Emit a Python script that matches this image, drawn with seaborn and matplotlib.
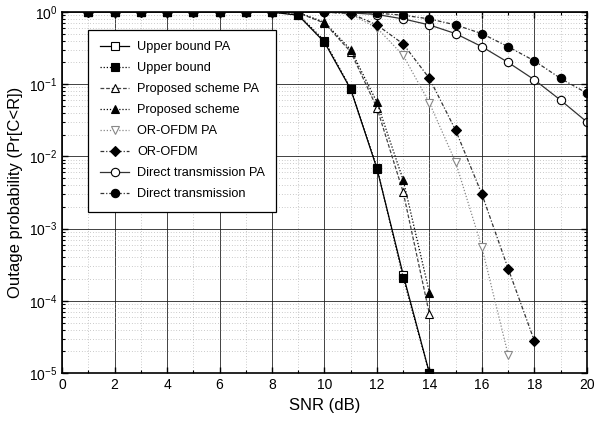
import numpy as np
import pandas as pd
import matplotlib
matplotlib.use("Agg")
import matplotlib.pyplot as plt
import seaborn as sns
from matplotlib.ticker import LogLocator, MultipleLocator, NullFormatter

# values (SNR 1..20 dB)
snr = list(range(1, 21))
upper_pa = [1, 1, 1, 1, 1, 1, 1, 0.99, 0.90, 0.38, 0.085, 0.0068, 2.3e-4, 1e-5]
upper = [1, 1, 1, 1, 1, 1, 1, 0.99, 0.92, 0.40, 0.087, 0.0070, 2.1e-4, 1e-5]
prop_pa = [1, 1, 1, 1, 1, 1, 1, 1, 0.97, 0.70, 0.28, 0.047, 0.0032, 6.6e-5]
prop = [1, 1, 1, 1, 1, 1, 1, 1, 0.98, 0.72, 0.30, 0.056, 0.0047, 1.3e-4]
orofdm_pa = [1, 1, 1, 1, 1, 1, 1, 1, 1, 0.99, 0.93, 0.60, 0.25, 0.055, 0.0083, 5.5e-4, 1.8e-5]
orofdm = [1, 1, 1, 1, 1, 1, 1, 1, 1, 0.99, 0.95, 0.66, 0.36, 0.12, 0.023, 0.0030, 2.8e-4, 2.8e-5]
direct_pa = [1, 1, 1, 1, 1, 1, 1, 1, 1, 1, 0.97, 0.92, 0.80, 0.66, 0.50, 0.33, 0.20, 0.115, 0.060, 0.030]
direct = [1, 1, 1, 1, 1, 1, 1, 1, 1, 1, 0.99, 0.96, 0.90, 0.80, 0.66, 0.50, 0.33, 0.21, 0.12, 0.075]

# label, values, marker, face, edge, line colour, linestyle
series = [
    ("Upper bound PA", upper_pa, "s", "white", "black", "black", "-"),
    ("Upper bound", upper, "s", "black", "black", "black", (0, (1, 1.5))),
    ("Proposed scheme PA", prop_pa, "^", "white", "black", "#444444", (0, (3, 1.5))),
    ("Proposed scheme", prop, "^", "black", "black", "black", (0, (1, 1.5))),
    ("OR-OFDM PA", orofdm_pa, "v", "white", "#888888", "#888888", (0, (1, 1.5))),
    ("OR-OFDM", orofdm, "D", "black", "black", "#333333", (0, (3, 1.5, 1, 1.5))),
    ("Direct transmission PA", direct_pa, "o", "white", "black", "#333333", "-"),
    ("Direct transmission", direct, "o", "black", "black", "#333333", (0, (3, 1.5, 1, 1.5))),
]

plt.rcParams["font.family"] = ["Liberation Sans", "DejaVu Sans"]
fig = plt.figure(figsize=(5.97, 4.25), dpi=100)
ax = fig.add_axes([0.104, 0.122, 0.879, 0.850])

for label, vals, mk, face, edge, lc, ls in series:
    df = pd.DataFrame({"SNR": snr[:len(vals)], "P": vals})
    sns.lineplot(data=df, x="SNR", y="P", ax=ax, color=lc, linestyle=ls, linewidth=0.9,
                 marker=mk, markersize=6 if mk != "D" else 5, markerfacecolor=face,
                 markeredgecolor=edge, markeredgewidth=0.8, label=label)

ax.set_yscale("log")
ax.set_xlim(0, 20)
ax.set_ylim(1e-5, 1)
ax.xaxis.set_major_locator(MultipleLocator(2))
ax.xaxis.set_minor_locator(MultipleLocator(1))
ax.yaxis.set_major_locator(LogLocator(base=10, numticks=10))
ax.yaxis.set_minor_locator(LogLocator(base=10, subs=np.arange(2, 10), numticks=20))
ax.yaxis.set_minor_formatter(NullFormatter())
ax.tick_params(which="both", direction="in", top=True, right=True, labelsize=10)
ax.tick_params(which="major", length=4, width=1)
ax.tick_params(which="minor", length=2.5, width=0.8)

ax.grid(which="major", color="#222222", linewidth=0.6)
ax.grid(which="minor", color="#999999", linewidth=0.5, linestyle=(0, (1, 3)))
for sp in ax.spines.values():
    sp.set_linewidth(1.2)

ax.set_xlabel("SNR (dB)", fontsize=12)
ax.set_ylabel("Outage probability (Pr[C<R])", fontsize=12)

leg = ax.legend(loc="upper left", bbox_to_anchor=(0.05, 0.95), borderaxespad=0,
                fontsize=9.2, frameon=True, fancybox=False, edgecolor="black",
                framealpha=1, handlelength=2.3, handletextpad=0.6,
                labelspacing=0.7, borderpad=0.9)
leg.get_frame().set_linewidth(0.9)

fig.savefig("out.png", dpi=100)
